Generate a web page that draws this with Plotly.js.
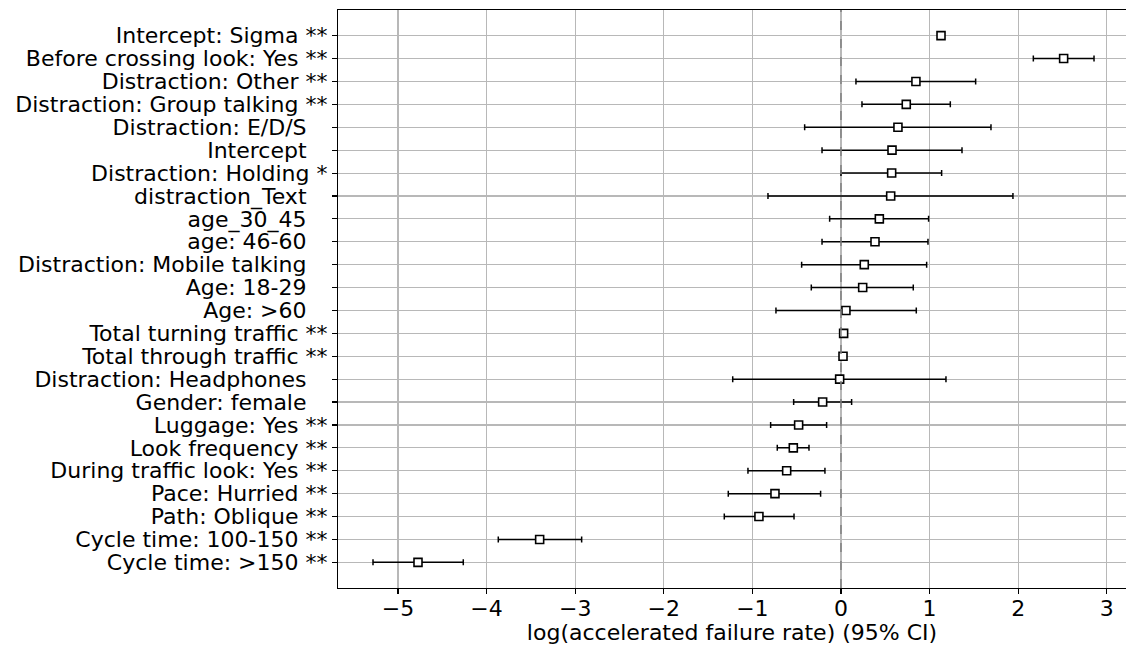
<!DOCTYPE html>
<html>
<head>
<meta charset="utf-8">
<script src="https://cdn.plot.ly/plotly-3.0.1.min.js"></script>
<style>html,body{margin:0;padding:0;background:#fff;}#chart{width:1126px;height:646px;}</style>
</head>
<body>
<div id="chart"></div>
<script>
const NB = "\u00a0";
const SIG3 = NB + NB + NB;
const labels = [
  "Intercept: Sigma" + NB + "**",
  "Before crossing look: Yes" + NB + "**",
  "Distraction: Other" + NB + "**",
  "Distraction: Group talking" + NB + "**",
  "Distraction: E/D/S" + SIG3,
  "Intercept" + SIG3,
  "Distraction: Holding" + NB + "*",
  "distraction_Text" + SIG3,
  "age_30_45" + SIG3,
  "age: 46-60" + SIG3,
  "Distraction: Mobile talking" + SIG3,
  "Age: 18-29" + SIG3,
  "Age: >60" + SIG3,
  "Total turning traffic" + NB + "**",
  "Total through traffic" + NB + "**",
  "Distraction: Headphones" + SIG3,
  "Gender: female" + SIG3,
  "Luggage: Yes" + NB + "**",
  "Look frequency" + NB + "**",
  "During traffic look: Yes" + NB + "**",
  "Pace: Hurried" + NB + "**",
  "Path: Oblique" + NB + "**",
  "Cycle time: 100-150" + NB + "**",
  "Cycle time: >150" + NB + "**"
];
const coef = [1.129, 2.513, 0.846, 0.737, 0.643, 0.576, 0.572, 0.561, 0.433, 0.384, 0.263, 0.245, 0.056, 0.030, 0.023, -0.015, -0.207, -0.478, -0.538, -0.613, -0.745, -0.926, -3.401, -4.774];
const lower = [1.129, 2.171, 0.169, 0.237, -0.410, -0.214, 0.000, -0.824, -0.128, -0.214, -0.444, -0.335, -0.734, 0.030, 0.023, -1.222, -0.534, -0.794, -0.719, -1.050, -1.272, -1.317, -3.868, -5.282];
const upper = [1.129, 2.856, 1.520, 1.234, 1.693, 1.366, 1.136, 1.941, 0.989, 0.982, 0.967, 0.816, 0.850, 0.030, 0.023, 1.185, 0.120, -0.162, -0.361, -0.181, -0.230, -0.530, -2.927, -4.263];
const xTicks = [-5, -4, -3, -2, -1, 0, 1, 2, 3];

const errPlus = upper.map((u, i) => u - coef[i]);
const errMinus = coef.map((c, i) => c - lower[i]);
const hasBar = coef.map((c, i) => (upper[i] - lower[i]) > 0.001);

const font = {family: "DejaVu Sans", size: 22, color: "#000"};

const trace = {
  type: "scatter",
  mode: "markers",
  x: coef,
  y: labels,
  marker: {symbol: "square", size: 8, color: "#fff", line: {color: "#000", width: 1.6}},
  error_x: {
    type: "data", symmetric: false,
    array: errPlus.map((v, i) => hasBar[i] ? v : null),
    arrayminus: errMinus.map((v, i) => hasBar[i] ? v : null),
    color: "#000", thickness: 1.5, width: 3
  },
  hoverinfo: "x+y",
  showlegend: false
};

const layout = {
  width: 1126, height: 646,
  margin: {l: 338, r: 0, t: 10, b: 58, pad: 0},
  paper_bgcolor: "#fff", plot_bgcolor: "#fff",
  font: font,
  xaxis: {
    range: [-5.677, 3.217],
    tickmode: "array", tickvals: xTicks,
    ticks: "outside", ticklen: 5, tickwidth: 1.1, tickcolor: "#000",
    ticklabelstandoff: -5,
    showgrid: true, gridcolor: "#b8b8b8", gridwidth: 1.1,
    zeroline: false,
    showline: true, linecolor: "#000", linewidth: 1.1, mirror: true,
    tickfont: font,
    automargin: false,
    title: {text: "log(accelerated failure rate) (95% CI)", font: font, standoff: 0}
  },
  yaxis: {
    type: "category",
    categoryorder: "array", categoryarray: labels,
    tickmode: "array", tickvals: labels, ticktext: labels,
    range: [24.12, -1.12],
    ticks: "outside", ticklen: 5, tickwidth: 1.1, tickcolor: "#000",
    showgrid: true, gridcolor: "#b8b8b8", gridwidth: 1.1,
    zeroline: false,
    showline: true, linecolor: "#000", linewidth: 1.1, mirror: false,
    tickfont: font,
    automargin: false
  },
  shapes: [{
    type: "line", xref: "x", yref: "paper", x0: 0, x1: 0, y0: 0, y1: 1,
    line: {color: "#808080", width: 1.5, dash: "dash"}, layer: "above"
  }]
};

Plotly.newPlot("chart", [trace], layout, {staticPlot: true, displayModeBar: false});
</script>
</body>
</html>
